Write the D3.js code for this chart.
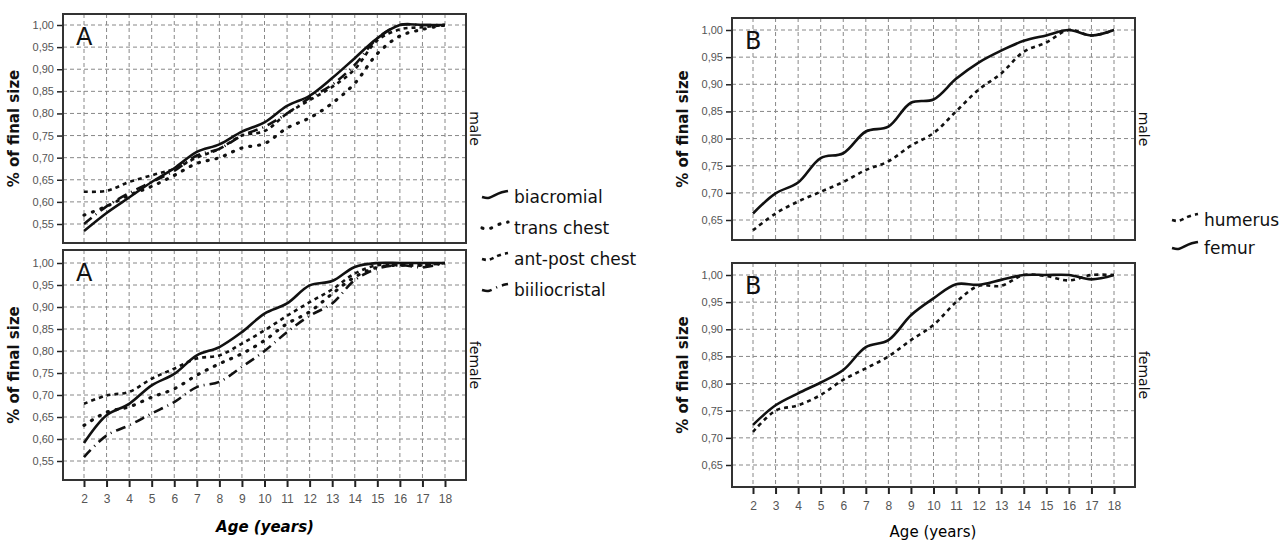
<!DOCTYPE html>
<html>
<head>
<meta charset="utf-8">
<script src="https://cdn.jsdelivr.net/npm/d3@7"></script>
<style>
  body { margin: 0; background: #fff; }
  svg { display: block; font-family: 'Comic Sans MS', 'DejaVu Sans', sans-serif; }
  .tick text { fill: #555; font-size: 11px; }
</style>
</head>
<body>
<div id="chart"></div>
<script>
const ages = [2, 3, 4, 5, 6, 7, 8, 9, 10, 11, 12, 13, 14, 15, 16, 17, 18];

// panel A (trunk), male
const maleBiacromial = [0.534, 0.575, 0.61, 0.645, 0.676, 0.713, 0.73, 0.759, 0.78, 0.817, 0.84, 0.88, 0.925, 0.97, 1.0, 1.0, 1.0];
const maleTransChest = [0.57, 0.59, 0.615, 0.635, 0.66, 0.687, 0.70, 0.722, 0.732, 0.767, 0.79, 0.823, 0.868, 0.935, 0.975, 0.99, 1.0];
const maleAntPost = [0.623, 0.625, 0.645, 0.66, 0.675, 0.70, 0.72, 0.75, 0.76, 0.80, 0.83, 0.86, 0.90, 0.965, 0.99, 0.995, 1.0];
const maleBiilio = [0.55, 0.59, 0.62, 0.645, 0.67, 0.705, 0.72, 0.75, 0.77, 0.80, 0.835, 0.865, 0.91, 0.97, 1.0, 1.0, 1.0];
// panel A, female
const femBiacromial = [0.591, 0.654, 0.68, 0.722, 0.748, 0.79, 0.809, 0.843, 0.885, 0.908, 0.949, 0.959, 0.991, 1.0, 1.0, 1.0, 1.0];
const femTransChest = [0.631, 0.661, 0.673, 0.695, 0.714, 0.745, 0.771, 0.794, 0.824, 0.862, 0.889, 0.93, 0.968, 0.99, 0.995, 0.995, 1.0];
const femAntPost = [0.68, 0.699, 0.707, 0.737, 0.76, 0.783, 0.79, 0.817, 0.847, 0.88, 0.911, 0.94, 0.976, 0.995, 0.995, 0.995, 1.0];
const femBiilio = [0.559, 0.608, 0.631, 0.658, 0.684, 0.718, 0.73, 0.764, 0.80, 0.843, 0.88, 0.908, 0.961, 0.987, 0.995, 0.99, 1.0];

// panel B (long bones)
const maleHumerus = [0.631, 0.662, 0.684, 0.702, 0.72, 0.742, 0.758, 0.787, 0.81, 0.85, 0.89, 0.92, 0.96, 0.977, 1.0, 0.99, 1.0];
const maleFemur = [0.662, 0.699, 0.719, 0.764, 0.773, 0.813, 0.822, 0.866, 0.872, 0.91, 0.94, 0.962, 0.98, 0.99, 1.0, 0.99, 1.0];
const femHumerus = [0.711, 0.75, 0.76, 0.779, 0.807, 0.828, 0.85, 0.88, 0.908, 0.95, 0.98, 0.98, 1.0, 0.998, 0.99, 1.0, 1.0];
const femFemur = [0.724, 0.76, 0.782, 0.802, 0.825, 0.867, 0.88, 0.926, 0.957, 0.983, 0.982, 0.991, 1.0, 1.0, 1.0, 0.992, 1.0];

const ticksA = [0.55, 0.60, 0.65, 0.70, 0.75, 0.80, 0.85, 0.90, 0.95, 1.00];
const ticksB = [0.65, 0.70, 0.75, 0.80, 0.85, 0.90, 0.95, 1.00];

const dashes = {
  solid: null,
  dotted: '1,8',
  dashed: '4,4',
  dashdot: '10,5,1,5'
};

const svg = d3.select('#chart')
  .append('svg')
  .attr('width', 1284)
  .attr('height', 540);

const fmt = d => d3.format('.2f')(d).replace('.', ',');

function drawPanel(p) {
  const x = d3.scaleLinear().domain([2, 18]).range([p.x0 + 21, p.x1 - 21]);
  const y = d3.scaleLinear().domain(p.yDomain).range(p.yRange);
  const g = svg.append('g');

  // grid
  g.selectAll('.hg')
    .data(p.ticks)
    .enter()
    .append('line')
    .attr('x1', p.x0).attr('x2', p.x1)
    .attr('y1', d => y(d)).attr('y2', d => y(d))
    .attr('stroke', '#888')
    .attr('stroke-width', 1)
    .attr('stroke-dasharray', '4,3');

  g.selectAll('.vg')
    .data(ages)
    .enter()
    .append('line')
    .attr('x1', d => x(d)).attr('x2', d => x(d))
    .attr('y1', p.top).attr('y2', p.bottom)
    .attr('stroke', '#888')
    .attr('stroke-width', 1)
    .attr('stroke-dasharray', '4,3');

  // y axis
  const yAxis = d3.axisLeft(y).tickValues(p.ticks).tickFormat(fmt).tickSize(6).tickPadding(3);
  const ya = g.append('g')
    .attr('transform', `translate(${p.x0},0)`)
    .call(yAxis);
  ya.select('.domain').remove();
  ya.selectAll('.tick line').attr('stroke', '#222').attr('stroke-width', 1.5);

  if (p.xAxis) {
    const xAxis = d3.axisBottom(x).tickValues(ages).tickFormat(d3.format('d')).tickSize(7).tickPadding(7);
    const xa = g.append('g')
      .attr('transform', `translate(0,${p.bottom})`)
      .call(xAxis);
    xa.select('.domain').remove();
    xa.selectAll('.tick line').attr('stroke', '#222').attr('stroke-width', 2);
    xa.selectAll('.tick text').style('font-size', '12px');
  }

  // lines
  const line = d3.line()
    .x((d, i) => x(ages[i]))
    .y(d => y(d))
    .curve(d3.curveCatmullRom.alpha(0.5));

  p.series.forEach(s => {
    g.append('path')
      .attr('d', line(s.values))
      .attr('fill', 'none')
      .attr('stroke', '#111')
      .attr('stroke-width', s.style === 'dotted' ? 3.2 : 2.6)
      .attr('stroke-linecap', s.style === 'dotted' ? 'round' : 'butt')
      .attr('stroke-dasharray', dashes[s.style]);
  });

  // frame
  g.append('rect')
    .attr('x', p.x0).attr('y', p.top)
    .attr('width', p.x1 - p.x0).attr('height', p.bottom - p.top)
    .attr('fill', 'none')
    .attr('stroke', '#333')
    .attr('stroke-width', 2);

  // panel letter
  g.append('text')
    .attr('x', p.x0 + 13)
    .attr('y', p.top + 31)
    .attr('font-size', 24)
    .attr('fill', '#111')
    .text(p.letter);

  // strip label
  g.append('text')
    .attr('transform', `translate(${p.x1 + 4},${(p.top + p.bottom) / 2}) rotate(90)`)
    .attr('text-anchor', 'middle')
    .attr('font-size', 14)
    .attr('fill', '#111')
    .text(p.strip);

  // y title
  g.append('text')
    .attr('transform', `translate(${p.titleX},${(p.top + p.bottom) / 2}) rotate(-90)`)
    .attr('text-anchor', 'middle')
    .attr('font-size', 15)
    .attr('font-weight', 'bold')
    .attr('fill', '#111')
    .text('% of final size');
}

const seriesA = (a, b, c, d) => [
  { values: a, style: 'solid' },
  { values: b, style: 'dotted' },
  { values: c, style: 'dashed' },
  { values: d, style: 'dashdot' }
];

drawPanel({ x0: 63, x1: 466, top: 14, bottom: 243, yDomain: [0.55, 1.0], yRange: [224, 25],
  ticks: ticksA, letter: 'A', strip: 'male', titleX: 19,
  series: seriesA(maleBiacromial, maleTransChest, maleAntPost, maleBiilio) });
drawPanel({ x0: 63, x1: 466, top: 250, bottom: 480, yDomain: [0.55, 1.0], yRange: [461, 263],
  ticks: ticksA, letter: 'A', strip: 'female', titleX: 19, xAxis: true,
  series: seriesA(femBiacromial, femTransChest, femAntPost, femBiilio) });
drawPanel({ x0: 732, x1: 1135, top: 18, bottom: 240, yDomain: [0.65, 1.0], yRange: [220, 30],
  ticks: ticksB, letter: 'B', strip: 'male', titleX: 688,
  series: [{ values: maleHumerus, style: 'dashed' }, { values: maleFemur, style: 'solid' }] });
drawPanel({ x0: 732, x1: 1135, top: 263, bottom: 487, yDomain: [0.65, 1.0], yRange: [465, 275],
  ticks: ticksB, letter: 'B', strip: 'female', titleX: 688, xAxis: true,
  series: [{ values: femHumerus, style: 'dashed' }, { values: femFemur, style: 'solid' }] });

// x titles
svg.append('text')
  .attr('x', 265).attr('y', 532)
  .attr('text-anchor', 'middle')
  .attr('font-size', 15)
  .attr('font-weight', 'bold')
  .attr('font-style', 'italic')
  .text('Age (years)');

svg.append('text')
  .attr('x', 933).attr('y', 537)
  .attr('text-anchor', 'middle')
  .attr('font-size', 15)
  .text('Age (years)');

// legends
const legendCurve = d3.line().curve(d3.curveBasis);
const symbolPts = [[0, 6], [7, 8], [16, 2], [26, 0]];

function legend(items, x0, yStart, step) {
  items.forEach((it, i) => {
    const yc = yStart + i * step;
    svg.append('path')
      .attr('transform', `translate(${x0},${yc - 6})`)
      .attr('d', legendCurve(symbolPts))
      .attr('fill', 'none')
      .attr('stroke', '#111')
      .attr('stroke-width', it.style === 'dotted' ? 3.2 : 2.6)
      .attr('stroke-linecap', it.style === 'dotted' ? 'round' : 'butt')
      .attr('stroke-dasharray', dashes[it.style]);
    svg.append('text')
      .attr('x', x0 + 32)
      .attr('y', yc + 6)
      .attr('font-size', 17)
      .attr('fill', '#111')
      .text(it.name);
  });
}

legend([
  { name: 'biacromial', style: 'solid' },
  { name: 'trans chest', style: 'dotted' },
  { name: 'ant-post chest', style: 'dashed' },
  { name: 'biiliocristal', style: 'dashdot' }
], 482, 197, 31);

legend([
  { name: 'humerus', style: 'dashed' },
  { name: 'femur', style: 'solid' }
], 1172, 220, 28);
</script>
</body>
</html>
